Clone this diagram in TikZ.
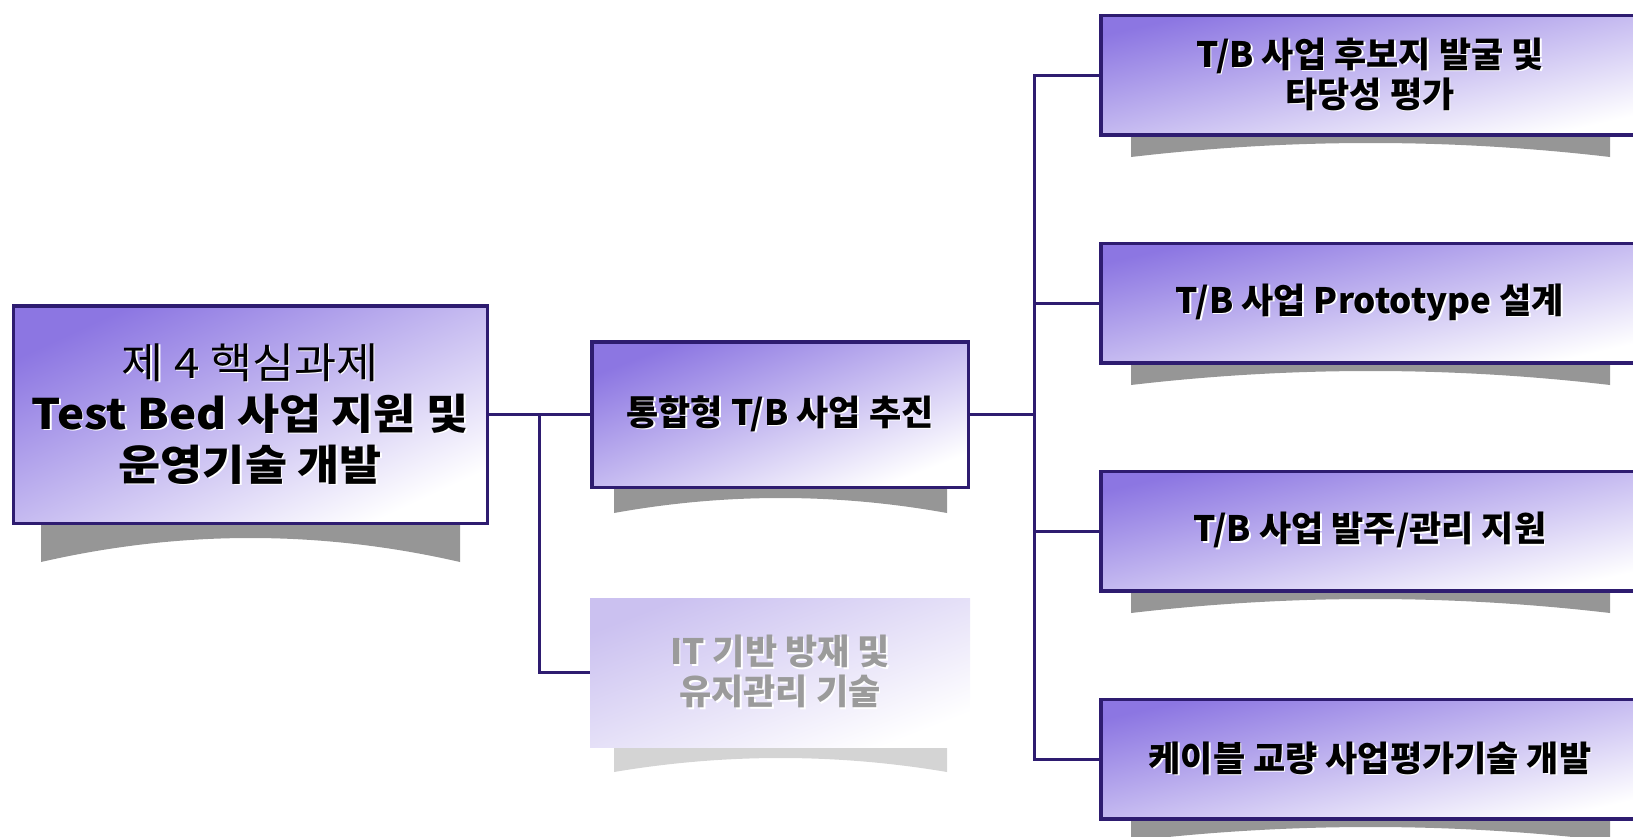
\documentclass[tikz,border=0pt]{standalone}
\usepackage{fontspec}
\setmainfont{Noto Sans CJK KR}
\newfontfamily\bigkr[FakeStretch=1.09]{Noto Sans CJK KR}
\usetikzlibrary{calc}
\definecolor{edge}{RGB}{46,28,112}
\definecolor{boxpurple}{RGB}{140,118,226}
\definecolor{fadepurple}{RGB}{203,193,240}
\definecolor{shadowgray}{RGB}{150,150,150}
\definecolor{fadeshadow}{RGB}{212,212,212}
\definecolor{fadetext}{RGB}{155,155,155}
\newcommand\wsh[1]{\makebox[0pt][l]{\hspace{1.6pt}\raisebox{-1.6pt}{\color{white}#1}}#1}
\newcommand\bshadow[6]{%
  \fill[#6] (#1,#3) -- (#1,#4) .. controls ({#1+(#2-#1)/3},{#4-4*#5/3}) and ({#1+2*(#2-#1)/3},{#4-4*#5/3}) .. (#2,#4) -- (#2,#3) -- cycle;}
\tikzset{
  gfill/.style 2 args={top color=#1, bottom color=white, shading angle=#2},
  box/.style={draw=edge, line width=3.5pt, inner sep=0pt, align=center, text=black},
  fadebox/.style={inner sep=0pt, align=center, text=fadetext},
  conn/.style={draw=edge, line width=3pt},
  smallfont/.style={font=\fontsize{35}{40}\selectfont\bfseries},
}
\begin{document}
\begin{tikzpicture}[x=1pt,y=-1pt]
\path[use as bounding box] (0,0) rectangle (1633,836);
\clip (0,0) rectangle (1633,836);
% shadows
\bshadow{41}{460}{522}{562}{24}{shadowgray}
\bshadow{614}{947}{486}{513}{15}{shadowgray}
\bshadow{614}{947}{747}{772}{14}{fadeshadow}
\foreach \k in {0,1,2,3}{
  \pgfmathsetmacro{\yt}{134+228*\k}
  \pgfmathsetmacro{\yb}{157+228*\k}
  \bshadow{1131}{1610}{\yt}{\yb}{14}{shadowgray}
}
% boxes
\node[box, gfill={boxpurple}{24.8}, minimum width=474pt, minimum height=217.5pt, font=\bigkr\fontsize{42}{51}\selectfont] (main) at (250.25,414.5)
  {\wsh{제 4 핵심과제}\\{\bfseries\wsh{Test Bed 사업 지원 및}}\\{\bfseries\wsh{운영기술 개발}}};
\node[box, gfill={boxpurple}{21.4}, smallfont, minimum width=376.5pt, minimum height=145.5pt] (mid) at (780,414.5) {\wsh{통합형 T/B 사업 추진}};
\node[fadebox, gfill={fadepurple}{21.4}, smallfont, minimum width=380pt, minimum height=149pt] (it) at (780,672.5) {\wsh{IT 기반 방재 및}\\\wsh{유지관리 기술}};
\node[box, gfill={boxpurple}{12.8}, smallfont, minimum width=538.5pt, minimum height=119.5pt] (r1) at (1370,75) {\wsh{T/B 사업 후보지 발굴 및}\\\wsh{타당성 평가}};
\node[box, gfill={boxpurple}{12.8}, smallfont, minimum width=538.5pt, minimum height=119.5pt] (r2) at (1370,303) {\wsh{T/B 사업 Prototype 설계}};
\node[box, gfill={boxpurple}{12.8}, smallfont, minimum width=538.5pt, minimum height=119.5pt] (r3) at (1370,531) {\wsh{T/B 사업 발주/관리 지원}};
\node[box, gfill={boxpurple}{12.8}, smallfont, minimum width=538.5pt, minimum height=119.5pt] (r4) at (1370,759) {\wsh{케이블 교량 사업평가기술 개발}};
% junctions
\coordinate (j1) at (539.5,414.5);
\coordinate (j2) at (1034,414.5);
% connectors
\draw[conn] (main.east) -- (mid.west);
\draw[conn] (j1) |- (it.west);
\draw[conn] (mid.east) -- (j2);
\draw[conn] (r1.west) -| (r4.west -| j2) -- (r4.west);
\draw[conn] (r2.west) -- (r2.west -| j2);
\draw[conn] (r3.west) -- (r3.west -| j2);
\end{tikzpicture}
\end{document}
